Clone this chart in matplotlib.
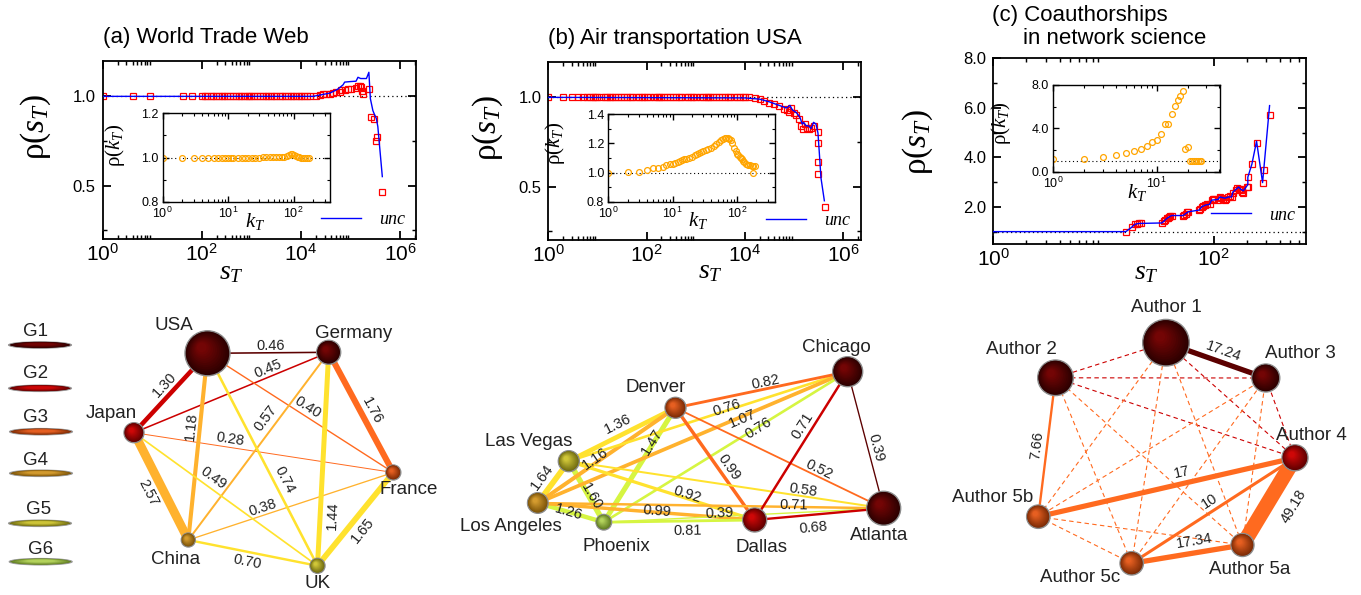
import numpy as np
import matplotlib
matplotlib.use('Agg')
import matplotlib.pyplot as plt
from matplotlib.patches import Circle, Ellipse
from matplotlib.ticker import (LogLocator, MultipleLocator, FuncFormatter,
                               NullFormatter, FormatStrFormatter)
from matplotlib.colors import to_rgb

plt.rcParams['font.family'] = ['Liberation Sans', 'DejaVu Sans']
plt.rcParams['mathtext.fontset'] = 'custom'
plt.rcParams['mathtext.rm'] = 'Liberation Serif'
plt.rcParams['mathtext.it'] = 'Liberation Serif:italic'
plt.rcParams['mathtext.sf'] = 'Liberation Sans'
plt.rcParams['mathtext.fallback'] = 'stix'

# ---------------- data: top row ----------------
# (a) World Trade Web
wtw_s = [1, 4, 9, 41, 64, 100, 115, 130, 150, 170, 195, 220, 250, 285, 320,
         370, 420, 480, 550, 620, 700, 800, 900, 1000, 1150, 1300, 1500, 1700,
         1950, 2200, 2500, 2850, 3200, 3700, 4200, 4800, 5500, 6200, 7000, 8000,
         9000, 10000, 11500, 13000, 15000,
         20400, 24000, 27600, 32400, 38000, 43900, 51500, 60300, 65000, 76000,
         89000, 103000, 130000, 141000, 152000, 159000, 169000, 178000, 234000,
         253000, 303000, 329000, 344000, 428000]
wtw_rho = [1.0, 1.0, 1.0, 1.0, 1.0, 1.0, 1.0, 1.0, 1.0, 1.0, 1.0, 1.0, 1.0, 1.0, 1.0,
           1.0, 1.0, 1.0, 1.0, 1.0, 1.0, 1.0, 1.0, 1.0, 1.0, 1.0, 1.0, 1.0,
           1.0, 1.0, 1.0, 1.0, 1.0, 1.0, 1.0, 1.0, 1.0, 1.0, 1.0, 1.0,
           1.0, 1.0, 1.0, 1.0, 1.0,
           1.002, 1.007, 1.011, 1.011, 1.015, 1.018, 1.022, 1.024, 1.033, 1.037,
           1.043, 1.04, 1.046, 1.06, 1.057, 1.052, 1.03, 1.015, 1.04,
           0.885, 0.872, 0.75, 0.77, 0.463]
wtw_unc_s = [1, 17400, 38000, 55000, 70800, 76000, 100000, 129000, 141000, 160000,
             178000, 209000, 234000, 251000, 282000, 302000, 331000, 355000, 437000]
wtw_unc_rho = [1.0, 1.0, 1.018, 1.04, 1.065, 1.08, 1.083, 1.085, 1.107, 1.10,
               1.10, 1.10, 1.135, 0.987, 0.92, 0.90, 0.876, 0.83, 0.55]
wtw_k = [1, 2, 3, 4, 5, 6, 7, 8, 9, 10, 11, 12, 14, 16, 18, 20, 23, 26, 30, 34,
         38, 43, 48, 54, 60, 66, 72, 78, 84, 90, 96, 102, 108, 115, 122, 130, 140,
         150, 160, 170]
wtw_rho_k = [1.0, 1.0, 1.0, 1.0, 1.0, 1.0, 1.0, 1.0, 1.0, 1.0, 1.0, 1.0, 1.0, 1.0,
             1.0, 1.0, 1.0, 1.0, 1.0, 1.001, 1.001, 1.001, 1.002, 1.002, 1.002,
             1.003, 1.004, 1.008, 1.012, 1.018, 1.015, 1.01, 1.006, 1.003, 1.001,
             1.0, 1.0, 1.0, 1.0, 1.0]

# (b) Air transportation USA
air_s = [1, 2, 3, 4, 5, 6, 7, 8, 9, 10, 12, 14, 16, 18, 20, 23, 26, 30, 35, 40,
         45, 50, 60, 70, 80, 90, 100, 120, 140, 160, 180, 200, 230, 260, 300, 350,
         400, 450, 500, 600, 700, 800, 900, 1000, 1200, 1400, 1600, 1800, 2000,
         2300, 2600, 3000, 3500, 4000, 4500, 5000, 6000, 7000, 8000, 9000, 10000,
         12000,
         15800, 20000, 25100, 31600, 39800, 50100, 63100, 70800, 79400, 89100,
         100000, 112000, 126000, 141000, 151000, 166000, 182000, 200000, 224000,
         251000, 306000, 306000, 306000, 306000, 431000]
air_rho = [1.0, 1.0, 1.0, 1.0, 1.0, 1.0, 1.0, 1.0, 1.0, 1.0, 1.0, 1.0, 1.0, 1.0,
           1.0, 1.0, 1.0, 1.0, 1.0, 1.0, 1.0, 1.0, 1.0, 1.0, 1.0, 1.0, 1.0, 1.0,
           1.0, 1.0, 1.0, 1.0, 1.0, 1.0, 1.0, 1.0, 1.0, 1.0, 1.0, 1.0, 1.0, 1.0,
           1.0, 1.0, 1.0, 1.0, 1.0, 1.0, 1.0, 1.0, 1.0, 1.0, 1.0, 1.0, 1.0, 1.0,
           1.0, 1.0, 1.0, 1.0, 1.0, 1.0,
           0.997, 0.99, 0.98, 0.97, 0.96, 0.95, 0.935, 0.93, 0.92, 0.94,
           0.91, 0.90, 0.88, 0.84, 0.82, 0.85, 0.83, 0.82, 0.83,
           0.84, 0.808, 0.742, 0.636, 0.571, 0.384]
air_unc_s = [1, 10000, 20000, 31600, 50100, 70800, 83000, 93000, 112000, 132000,
             148000, 158000, 178000, 200000, 224000, 251000, 282000, 309000,
             331000, 355000, 417000]
air_unc_rho = [1.0, 0.997, 0.99, 0.975, 0.955, 0.94, 0.955, 0.93, 0.915, 0.89,
               0.85, 0.86, 0.84, 0.84, 0.825, 0.86, 0.85, 0.80, 0.68, 0.55, 0.42]
air_k = [1, 2, 3, 4, 5, 6, 7, 8, 9, 10, 11, 12, 13, 14, 15, 16, 18, 20, 22, 24,
         26, 28, 30, 33, 36, 40, 44, 48, 52, 56, 60, 64, 68, 72, 76, 80, 85, 90,
         95, 100, 105, 110, 115, 120, 125, 130, 140, 150, 160, 170, 180, 190, 175]
air_rho_k = [1.0, 1.005, 1.007, 1.016, 1.028, 1.034, 1.04, 1.05, 1.057, 1.062,
             1.068, 1.074, 1.08, 1.085, 1.09, 1.095, 1.103, 1.11, 1.118, 1.127,
             1.134, 1.141, 1.148, 1.155, 1.163, 1.17, 1.18, 1.195, 1.21, 1.225,
             1.23, 1.235, 1.237, 1.234, 1.228, 1.222, 1.2, 1.17, 1.15, 1.13,
             1.12, 1.11, 1.10, 1.09, 1.08, 1.07, 1.06, 1.055, 1.05, 1.048, 1.046,
             1.045, 1.0]

# (c) Coauthorships in network science
coa_s = [16, 18, 19.4, 20, 21, 22, 34, 35.6, 36.5, 37.6, 38.5, 39.7, 40.5, 41.7,
         53, 54.5, 56, 57.5, 59, 74, 76, 78, 81, 84, 88, 92, 96, 98, 100, 110,
         114, 118, 122, 127, 131, 136, 140, 146, 150, 160, 165, 169, 174, 178,
         183, 187, 200, 205, 205, 223, 246, 279, 285, 323]
coa_rho = [1.0, 1.17, 1.30, 1.32, 1.33, 1.34, 1.35, 1.43, 1.47, 1.53, 1.57, 1.6,
           1.62, 1.62, 1.62, 1.68, 1.73, 1.78, 1.8, 1.87, 1.93, 2.0, 2.05, 2.07,
           2.1, 2.1, 2.27, 2.3, 2.3, 2.27, 2.4, 2.35, 2.3, 2.27, 2.3, 2.4, 2.45,
           2.38, 2.57, 2.7, 2.77, 2.74, 2.72, 2.67, 2.6, 2.57, 2.8, 3.2, 2.8,
           3.72, 4.59, 2.98, 3.48, 5.72]
coa_unc_s = [1, 16, 18, 19.4, 21, 34, 35.6, 37.6, 39.7, 41.7, 53, 56, 59, 74, 78,
             84, 92, 96, 110, 114, 127, 136, 146, 150, 169, 178, 187, 205, 205,
             223, 246, 279, 323]
coa_unc_rho = [1.0, 1.0, 1.17, 1.30, 1.33, 1.35, 1.43, 1.53, 1.6, 1.65, 1.65,
               1.73, 1.8, 1.87, 2.0, 2.07, 2.1, 2.27, 2.3, 2.4, 2.35, 2.4, 2.4,
               2.6, 2.8, 2.7, 2.65, 2.9, 3.2, 3.72, 4.65, 2.98, 6.09]
coa_k = [1, 2, 3, 4, 5, 6, 7, 8, 9, 10, 11, 12, 13, 14, 15, 16, 17, 18, 19, 20,
         21, 22, 23, 24, 25, 26, 27]
coa_rho_k = [1.14, 1.2, 1.38, 1.54, 1.70, 1.88, 2.12, 2.37, 2.74, 2.92, 3.5, 4.4,
             4.4, 5.32, 6.06, 6.61, 6.98, 7.44, 2.12, 2.31, 0.99, 0.99, 0.99,
             0.99, 0.99, 0.99, 0.99]

# ---------------- data: networks ----------------
group_names = ['G1', 'G2', 'G3', 'G4', 'G5', 'G6']

wtw_nodes = ['USA', 'Germany', 'Japan', 'France', 'China', 'UK']
wtw_node_group = [1, 1, 2, 3, 4, 5]
wtw_edges = [('USA', 'Germany', '0.46', 1), ('USA', 'Japan', '1.30', 2),
             ('Japan', 'Germany', '0.45', 2), ('USA', 'France', '0.40', 3),
             ('Germany', 'France', '1.76', 3), ('Japan', 'France', '0.28', 3),
             ('USA', 'China', '1.18', 4), ('Germany', 'China', '0.57', 4),
             ('Japan', 'China', '2.57', 4), ('China', 'France', '0.38', 4),
             ('USA', 'UK', '0.74', 5), ('Germany', 'UK', '1.44', 5),
             ('Japan', 'UK', '0.49', 5), ('China', 'UK', '0.70', 5),
             ('France', 'UK', '1.65', 5)]

air_nodes = ['Chicago', 'Denver', 'Las Vegas', 'Los Angeles', 'Phoenix',
             'Dallas', 'Atlanta']
air_node_group = [1, 3, 5, 4, 6, 2, 1]
air_edges = [('Los Angeles', 'Las Vegas', '1.64', 5),
             ('Los Angeles', 'Phoenix', '1.26', 6),
             ('Las Vegas', 'Phoenix', '1.60', 6),
             ('Phoenix', 'Denver', '1.47', 6),
             ('Las Vegas', 'Denver', '1.36', 5),
             ('Los Angeles', 'Denver', '1.16', 4),
             ('Las Vegas', 'Chicago', '0.76', 5),
             ('Los Angeles', 'Chicago', '1.07', 4),
             ('Phoenix', 'Chicago', '0.76', 6),
             ('Denver', 'Chicago', '0.82', 3),
             ('Denver', 'Dallas', '0.99', 3),
             ('Denver', 'Atlanta', '0.52', 3),
             ('Las Vegas', 'Atlanta', '0.58', 5),
             ('Las Vegas', 'Dallas', '0.92', 5),
             ('Los Angeles', 'Dallas', '0.99', 4),
             ('Los Angeles', 'Atlanta', '0.71', 4),
             ('Phoenix', 'Dallas', '0.81', 6),
             ('Phoenix', 'Atlanta', '0.39', 6),
             ('Dallas', 'Atlanta', '0.68', 2),
             ('Chicago', 'Dallas', '0.71', 2),
             ('Chicago', 'Atlanta', '0.39', 1)]

coa_nodes = ['Author 1', 'Author 2', 'Author 3', 'Author 4', 'Author 5b',
             'Author 5c', 'Author 5a']
coa_node_group = [1, 1, 1, 2, 3, 3, 3]
coa_edges = [('Author 1', 'Author 3', '17.24', 1),
             ('Author 2', 'Author 5b', '7.66', 3),
             ('Author 5b', 'Author 4', '17', 3),
             ('Author 5c', 'Author 4', '10', 3),
             ('Author 5c', 'Author 5a', '17.34', 3),
             ('Author 5a', 'Author 4', '49.18', 3)]
coa_weak = [('Author 1', 'Author 2', 2), ('Author 2', 'Author 3', 2),
            ('Author 2', 'Author 4', 2), ('Author 3', 'Author 4', 2),
            ('Author 1', 'Author 4', 2), ('Author 1', 'Author 5b', 3),
            ('Author 1', 'Author 5c', 3), ('Author 1', 'Author 5a', 3),
            ('Author 2', 'Author 5c', 3), ('Author 2', 'Author 5a', 3),
            ('Author 3', 'Author 5b', 3), ('Author 3', 'Author 5c', 3),
            ('Author 3', 'Author 5a', 3), ('Author 5b', 'Author 5c', 3),
            ('Author 5b', 'Author 5a', 3)]

# ---------------- layout (pixel units of the figure) ----------------
W, H = 1361, 595
node_xy = {'USA': (207.5, 353.3, 22.5), 'Germany': (328.7, 352.3, 12),
           'Japan': (134, 432.7, 10), 'France': (393.3, 472.5, 7.5),
           'China': (188.3, 540, 7), 'UK': (317.5, 565.8, 7.5),
           'Chicago': (847.7, 371.7, 15), 'Denver': (675.5, 407.8, 10.5),
           'Las Vegas': (568.8, 461.2, 10.5), 'Los Angeles': (537.8, 503, 10.3),
           'Phoenix': (603.8, 522.2, 7.8), 'Dallas': (754.7, 520, 12),
           'Atlanta': (883.7, 508.3, 17),
           'Author 1': (1166, 342.7, 23.3), 'Author 2': (1055.5, 377.8, 17.8),
           'Author 3': (1265.8, 378, 14), 'Author 4': (1295, 457.8, 13),
           'Author 5b': (1038.3, 516.7, 11.7), 'Author 5c': (1131.7, 563.3, 11.7),
           'Author 5a': (1242.5, 545, 11.5)}
name_xy = {'USA': (173.7, 325), 'Germany': (354, 333), 'Japan': (111.7, 413),
           'France': (408.7, 490), 'China': (176, 560), 'UK': (318, 583.5),
           'Chicago': (836, 348), 'Denver': (656, 388), 'Las Vegas': (528.3, 441.7),
           'Los Angeles': (510.8, 526.7), 'Phoenix': (616.7, 546.7),
           'Dallas': (761.7, 548), 'Atlanta': (879, 536),
           'Author 1': (1166, 308), 'Author 2': (1021, 350), 'Author 3': (1300, 354),
           'Author 4': (1311, 436), 'Author 5b': (992.5, 497),
           'Author 5c': (1080, 577), 'Author 5a': (1249.5, 569.5)}
edge_label_xy = {
    ('USA', 'Germany'): (271, 345.8), ('USA', 'Japan'): (165, 385),
    ('Japan', 'Germany'): (268, 369), ('USA', 'France'): (308, 407.5),
    ('Germany', 'France'): (372.5, 411), ('Japan', 'France'): (230.5, 438.8),
    ('USA', 'China'): (191, 426.7), ('Germany', 'China'): (265.8, 418),
    ('Japan', 'China'): (148, 493), ('China', 'France'): (263, 508),
    ('USA', 'UK'): (284, 480), ('Germany', 'UK'): (333, 516),
    ('Japan', 'UK'): (213, 478), ('China', 'UK'): (246.7, 561.7),
    ('France', 'UK'): (363, 530),
    ('Los Angeles', 'Las Vegas'): (542.3, 477.3), ('Los Angeles', 'Phoenix'): (569, 511.7),
    ('Las Vegas', 'Phoenix'): (591.7, 496.7), ('Phoenix', 'Denver'): (652.3, 442.3),
    ('Las Vegas', 'Denver'): (617.3, 424), ('Los Angeles', 'Denver'): (595.7, 458.3),
    ('Las Vegas', 'Chicago'): (726.7, 408.3), ('Los Angeles', 'Chicago'): (742, 418.3),
    ('Phoenix', 'Chicago'): (758, 427.7), ('Denver', 'Chicago'): (765.7, 381.7),
    ('Denver', 'Dallas'): (729.3, 467.3), ('Denver', 'Atlanta'): (819, 470),
    ('Las Vegas', 'Atlanta'): (802.7, 490), ('Las Vegas', 'Dallas'): (686.7, 494),
    ('Los Angeles', 'Dallas'): (657.3, 510.7), ('Los Angeles', 'Atlanta'): (794, 505.3),
    ('Phoenix', 'Dallas'): (687.3, 531), ('Phoenix', 'Atlanta'): (719.7, 513.3),
    ('Dallas', 'Atlanta'): (813.7, 527.7), ('Chicago', 'Dallas'): (802.7, 426),
    ('Chicago', 'Atlanta'): (875.7, 447.3),
    ('Author 1', 'Author 3'): (1223.8, 351.7), ('Author 2', 'Author 5b'): (1037.3, 445.7),
    ('Author 5b', 'Author 4'): (1181.7, 472.3), ('Author 5c', 'Author 4'): (1210, 500.7),
    ('Author 5c', 'Author 5a'): (1194.7, 540.7), ('Author 5a', 'Author 4'): (1294, 506.7)}
legend_xy = [(40, 345, 36, 331), (40, 388.3, 36, 373.5), (41, 431.7, 36, 417),
             (41, 473.3, 36, 460.7), (40, 523.3, 39, 509.5), (40.7, 561.7, 40.8, 549.7)]

edge_cols = {1: '#5c0000', 2: '#cc0000', 3: '#ff6a1f', 4: '#ffb22e',
             5: '#ffe22e', 6: '#d6f542'}
sphere_cols = {1: ('#2b0000', '#7a0505'), 2: ('#5e0000', '#d80808'),
               3: ('#7a2a05', '#f06424'), 4: ('#7a5208', '#dca232'),
               5: ('#6e6a10', '#d8ce3c'), 6: ('#5e7a20', '#bcdc62')}


def px_box(l, t, r, b):
    return [l / W, 1 - b / H, (r - l) / W, (b - t) / H]


def log_label(v, pos):
    return r'$\mathsf{10^{%d}}$' % int(round(np.log10(v)))


def mix(c1, c2, f):
    a = np.array(to_rgb(c1))
    b = np.array(to_rgb(c2))
    return tuple(a + (b - a) * f)


def style_axes(ax, lw, maj, mnr):
    ax.tick_params(which='both', direction='in', top=True, right=True)
    ax.tick_params(which='major', length=maj, width=lw)
    ax.tick_params(which='minor', length=mnr, width=lw * 0.8)
    for sp in ax.spines.values():
        sp.set_linewidth(lw)


fig = plt.figure(figsize=(W / 100, H / 100), dpi=100)

panels = [
    dict(box=(102.7, 60.7, 416, 239), ibox=(162.7, 113.3, 330, 201.7),
         s=wtw_s, rho=wtw_rho, us=wtw_unc_s, urho=wtw_unc_rho, k=wtw_k, rk=wtw_rho_k,
         xlim=(1, 10 ** 6.32), ylim=(0.2, 1.2), ymaj=0.5, ymin=0.25,
         ixlim=(1, 360), iylim=(0.8, 1.2), iymaj=0.2, iymin=0.1,
         ylab=(-0.16, 0.63), xlab=(0.41, -0.183), iylab=(-0.215, 0.64),
         ixlab=(0.55, -0.22), leg=(1.0, 0.0, 'lower right')),
    dict(box=(548.3, 61.7, 860.7, 240), ibox=(608.3, 114.3, 775, 201.7),
         s=air_s, rho=air_rho, us=air_unc_s, urho=air_unc_rho, k=air_k, rk=air_rho_k,
         xlim=(1, 10 ** 6.36), ylim=(0.2, 1.2), ymaj=0.5, ymin=0.25,
         ixlim=(1, 390), iylim=(0.8, 1.4), iymaj=0.2, iymin=0.1,
         ylab=(-0.14, 0.63), xlab=(0.519, -0.177), iylab=(-0.25, 0.67),
         ixlab=(0.54, -0.21), leg=(1.0, 0.0, 'lower right')),
    dict(box=(993.3, 58.3, 1306, 244), ibox=(1053.3, 85, 1220, 171.7),
         s=coa_s, rho=coa_rho, us=coa_unc_s, urho=coa_unc_rho, k=coa_k, rk=coa_rho_k,
         xlim=(1, 10 ** 2.84), ylim=(0.5, 8.0), ymaj=2.0, ymin=1.0,
         ixlim=(1, 41), iylim=(0, 8), iymaj=4.0, iymin=2.0,
         ylab=(-0.186, 0.55), xlab=(0.49, -0.149), iylab=(-0.24, 0.56),
         ixlab=(0.5, -0.24), leg=(1.0, 0.156, 'center right')),
]
titles = ['(a) World Trade Web', '(b) Air transportation USA']

for i, p in enumerate(panels):
    ax = fig.add_axes(px_box(*p['box']))
    ax.axhline(1.0, color='k', ls=(0, (1, 2.5)), lw=0.9, zorder=1)
    ax.plot(p['s'], p['rho'], ls='none', marker='s', ms=4.5, mfc='none',
            mec='red', mew=0.9, zorder=2)
    unc, = ax.plot(p['us'], p['urho'], color='blue', lw=1.0, zorder=3)
    ax.set_xscale('log')
    ax.set_xlim(*p['xlim'])
    ax.set_ylim(*p['ylim'])
    ax.xaxis.set_major_locator(LogLocator(base=100))
    ax.xaxis.set_minor_locator(LogLocator(base=100, subs=np.arange(2, 10)))
    ax.xaxis.set_major_formatter(FuncFormatter(log_label))
    ax.xaxis.set_minor_formatter(NullFormatter())
    ax.yaxis.set_major_locator(MultipleLocator(p['ymaj']))
    ax.yaxis.set_minor_locator(MultipleLocator(p['ymin']))
    ax.yaxis.set_major_formatter(FormatStrFormatter('%.1f'))
    style_axes(ax, 1.3, 6, 3)
    ax.tick_params(axis='x', labelsize=15, pad=3)
    ax.tick_params(axis='y', labelsize=12, pad=5)
    ax.set_ylabel(r'$\mathrm{\rho}(s_T)$', fontsize=24)
    ax.yaxis.set_label_coords(*p['ylab'])
    ax.text(p['xlab'][0], p['xlab'][1], r'$s_T$', transform=ax.transAxes,
            fontsize=20, ha='center', va='center')
    lx, ly, lloc = p['leg']
    ax.legend([unc], ['unc'], loc=lloc, bbox_to_anchor=(lx, ly), frameon=False,
              prop=dict(family='Liberation Serif', style='italic', size=13),
              handlelength=2.2, borderaxespad=0.2, handletextpad=1.0)
    if i < 2:
        ax.text(0.0, 1.13, titles[i], transform=ax.transAxes, fontsize=16,
                ha='left', va='center')
    else:
        ax.text(-0.005, 1.228, '(c) Coauthorships', transform=ax.transAxes,
                fontsize=16, ha='left', va='center')
        ax.text(0.096, 1.108, 'in network science', transform=ax.transAxes,
                fontsize=16, ha='left', va='center')

    ins = fig.add_axes(px_box(*p['ibox']))
    ins.axhline(1.0, color='k', ls=(0, (1, 2.5)), lw=0.8, zorder=1)
    ins.plot(p['k'], p['rk'], ls='none', marker='o', ms=4.2, mfc='none',
             mec='#ffa500', mew=0.9, zorder=2)
    ins.set_xscale('log')
    ins.set_xlim(*p['ixlim'])
    ins.set_ylim(*p['iylim'])
    ins.xaxis.set_major_locator(LogLocator(base=10))
    ins.xaxis.set_minor_locator(LogLocator(base=10, subs=np.arange(2, 10)))
    ins.xaxis.set_major_formatter(FuncFormatter(log_label))
    ins.xaxis.set_minor_formatter(NullFormatter())
    ins.yaxis.set_major_locator(MultipleLocator(p['iymaj']))
    ins.yaxis.set_minor_locator(MultipleLocator(p['iymin']))
    ins.yaxis.set_major_formatter(FormatStrFormatter('%.1f'))
    style_axes(ins, 1.0, 4, 2)
    ins.tick_params(labelsize=9, pad=3)
    ins.set_ylabel(r'$\mathrm{\rho}(k_T)$', fontsize=15)
    ins.yaxis.set_label_coords(*p['iylab'])
    ins.text(p['ixlab'][0], p['ixlab'][1], r'$k_T$', transform=ins.transAxes,
             fontsize=15, ha='center', va='center')

# ---------------- networks ----------------
net = fig.add_axes([0, 0, 1, 1])
net.set_xlim(0, W)
net.set_ylim(H, 0)
net.axis('off')


def sphere(x, y, r, g):
    dark, light = sphere_cols[g]
    net.add_patch(Circle((x, y), r, fc=dark, ec='#8c8c8c', lw=1.0, zorder=5))
    n = 12
    for j in range(1, n):
        f = j / n
        net.add_patch(Circle((x - 0.28 * r * f, y - 0.28 * r * f), r * (1 - 0.85 * f),
                             fc=mix(dark, light, f), ec='none', zorder=5))


def edge_angle(a, b):
    x1, y1, _ = node_xy[a]
    x2, y2, _ = node_xy[b]
    ang = np.degrees(np.arctan2(-(y2 - y1), x2 - x1))
    if ang > 90:
        ang -= 180
    elif ang <= -90:
        ang += 180
    return ang


def draw_network(nodes, groups, edges, scale):
    for a, b, lbl, g in edges:
        x1, y1, _ = node_xy[a]
        x2, y2, _ = node_xy[b]
        net.plot([x1, x2], [y1, y2], color=edge_cols[g], lw=scale * float(lbl),
                 solid_capstyle='butt', zorder=2)
        tx, ty = edge_label_xy[(a, b)]
        net.text(tx, ty, lbl, rotation=edge_angle(a, b), rotation_mode='anchor',
                 ha='center', va='center', fontsize=10.5, color='#222222', zorder=7)
    for nm, g in zip(nodes, groups):
        x, y, r = node_xy[nm]
        sphere(x, y, r, g)
        tx, ty = name_xy[nm]
        net.text(tx, ty, nm, ha='center', va='center', fontsize=13.5,
                 color='#222222', zorder=8)


for a, b, g in coa_weak:
    x1, y1, _ = node_xy[a]
    x2, y2, _ = node_xy[b]
    net.plot([x1, x2], [y1, y2], color=edge_cols[g], lw=0.8, ls=(0, (4, 3)), zorder=1)

draw_network(wtw_nodes, wtw_node_group, wtw_edges, 2.5)
draw_network(air_nodes, air_node_group, air_edges, 2.5)
draw_network(coa_nodes, coa_node_group, coa_edges, 0.22)

# group legend
for gi, (name, (ex, ey, tx, ty)) in enumerate(zip(group_names, legend_xy)):
    dark, light = sphere_cols[gi + 1]
    net.add_patch(Ellipse((ex, ey), 63, 6.5, fc=dark, ec='#9a9a9a', lw=0.8, zorder=5))
    for j in range(1, 10):
        f = j / 10
        net.add_patch(Ellipse((ex, ey - 0.8 * f), 63 * (1 - 0.6 * f), 6.5 * (1 - 0.7 * f),
                              fc=mix(dark, light, f), ec='none', zorder=5))
    net.text(tx, ty, name, ha='center', va='center', fontsize=13.5, color='#222222')

fig.savefig('out.png', dpi=100)
